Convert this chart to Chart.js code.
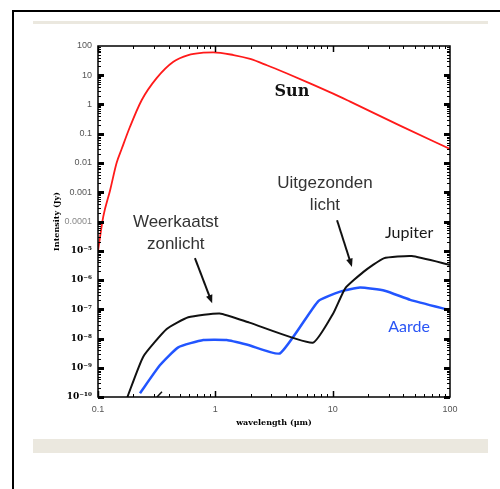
<!DOCTYPE html>
<html>
<head>
<meta charset="utf-8">
<title>Sun, Jupiter, Aarde</title>
<script src="https://cdn.jsdelivr.net/npm/chart.js@4/dist/chart.umd.min.js"></script>
<style>
  html, body { margin: 0; padding: 0; background: #fff; }
  #page { position: relative; width: 500px; height: 489px; overflow: hidden; }
  .rand { position: absolute; background: #000; }
  .balk { position: absolute; background: #ebe8df; }
  #wrap { position: absolute; left: 0; top: 0; width: 500px; height: 489px; }
</style>
</head>
<body>
<div id="page">
  <div class="rand" style="left:13px; top:10px; width:487px; height:2px;"></div>
  <div class="rand" style="left:12px; top:10px; width:2px; height:479px;"></div>
  <div class="balk" style="left:33px; top:21px; width:455px; height:3px;"></div>
  <div class="balk" style="left:33px; top:439px; width:455px; height:14px;"></div>
  <div id="wrap"><canvas id="grafiek" width="500" height="489"></canvas></div>
</div>
<script>
// ===== gegevens =====
const sunWavelength = [0.1, 0.111, 0.127, 0.144, 0.159, 0.187, 0.236, 0.316, 0.439, 0.588, 0.79, 0.96, 1.43, 1.98, 2.75, 4.04, 6.41, 10.1, 14.1, 37.5, 100];
const sunIntensity = [1e-5, 1.5e-4, 1.2e-3, 0.01, 0.03, 0.17, 1.43, 8, 29, 49, 59, 61, 49, 36, 22, 11.7, 5.3, 2.35, 1.25, 0.19, 0.03];

const jupiterWavelength = [0.178, 0.243, 0.385, 0.588, 1.09, 1.95, 6.77, 10.1, 12.8, 18.3, 27.2, 47.2, 100];
const jupiterIntensity = [1e-10, 2.4e-9, 2.1e-8, 5.3e-8, 7.2e-8, 3.5e-8, 7.2e-9, 7.2e-8, 5.2e-7, 1.9e-6, 5.5e-6, 6.6e-6, 3.3e-6];

const aardeWavelength = [0.228, 0.338, 0.483, 0.79, 1.25, 1.91, 3.56, 7.55, 11.6, 17.1, 27.8, 45.8, 100];
const aardeIntensity = [1.35e-10, 1.24e-9, 5e-9, 8.9e-9, 8.9e-9, 6e-9, 3.1e-9, 1.9e-7, 4e-7, 5.5e-7, 4.3e-7, 2.1e-7, 9.3e-8];

// klein los stukje onderaan
const restWavelength = [0.318, 0.351];
const restIntensity = [1e-10, 1.5e-10];

const xTicks = [0.1, 1, 10, 100];
const yTicks = [1e-10, 1e-9, 1e-8, 1e-7, 1e-6, 1e-5, 1e-4, 1e-3, 0.01, 0.1, 1, 10, 100];
const yTickLabels = ["10⁻¹⁰", "10⁻⁹", "10⁻⁸", "10⁻⁷", "10⁻⁶", "10⁻⁵", "0.0001", "0.001", "0.01", "0.1", "1", "10", "100"];

// tekstjes en pijlen, in data-coördinaten (golflengte, intensiteit)
const labels = [
  { text: "Sun", x: 4.5, y: 2.7, font: "bold 16px 'DejaVu Serif'", color: "#111" },
  { text: "Weerkaatst", x: 0.46, y: 9.6e-5, font: "17px 'Liberation Sans'", color: "#333" },
  { text: "zonlicht", x: 0.46, y: 1.6e-5, font: "17px 'Liberation Sans'", color: "#333" },
  { text: "Uitgezonden", x: 8.6, y: 2.1e-3, font: "17px 'Liberation Sans'", color: "#333" },
  { text: "licht", x: 8.6, y: 3.7e-4, font: "17px 'Liberation Sans'", color: "#333" },
  { text: "Jupiter", x: 44.8, y: 4e-5, font: "16px 'Lato'", color: "#1a1a1a" },
  { text: "Aarde", x: 44.8, y: 2.5e-8, font: "16px 'Lato'", color: "#2a55f5" },
];
const arrows = [
  { from: [0.67, 5.6e-6], to: [0.94, 1.6e-7] },
  { from: [10.9, 1.1e-4], to: [14.6, 2.8e-6] },
];

function punten(xs, ys) {
  return xs.map((x, i) => ({ x: x, y: ys[i] }));
}

// ===== kader + tickjes naar binnen =====
const kaderPlugin = {
  id: "kader",
  afterDatasetsDraw(chart) {
    const { ctx, chartArea: a, scales } = chart;
    ctx.save();
    ctx.strokeStyle = "#000";

    // x-tickjes boven en onder
    for (let d = 0; d < xTicks.length - 1; d++) {
      for (let k = 1; k <= 9; k++) {
        const px = Math.round(scales.x.getPixelForValue(xTicks[d] * k)) + 0.5;
        const len = k === 1 ? 6 : 3;
        ctx.lineWidth = k === 1 ? 1.5 : 1;
        ctx.beginPath();
        ctx.moveTo(px, a.bottom); ctx.lineTo(px, a.bottom - len);
        ctx.moveTo(px, a.top); ctx.lineTo(px, a.top + len);
        ctx.stroke();
      }
    }

    // y-tickjes links en rechts
    for (let d = 0; d < yTicks.length - 1; d++) {
      for (let k = 1; k <= 9; k++) {
        const py = Math.round(scales.y.getPixelForValue(yTicks[d] * k)) + 0.5;
        const len = k === 1 ? 6 : 3;
        ctx.lineWidth = k === 1 ? 3 : 1;
        ctx.beginPath();
        ctx.moveTo(a.left, py); ctx.lineTo(a.left + len, py);
        ctx.moveTo(a.right, py); ctx.lineTo(a.right - len, py);
        ctx.stroke();
      }
    }

    ctx.lineWidth = 1.5;
    ctx.strokeRect(a.left, a.top, a.right - a.left, a.bottom - a.top);
    ctx.restore();
  },
  afterDraw(chart) {
    const { ctx, scales } = chart;
    ctx.save();
    ctx.textAlign = "center";
    ctx.textBaseline = "middle";
    labels.forEach((l) => {
      ctx.font = l.font;
      ctx.fillStyle = l.color;
      ctx.fillText(l.text, scales.x.getPixelForValue(l.x), scales.y.getPixelForValue(l.y));
    });

    ctx.strokeStyle = "#111";
    ctx.fillStyle = "#111";
    ctx.lineWidth = 2;
    arrows.forEach((p) => {
      const x1 = scales.x.getPixelForValue(p.from[0]);
      const y1 = scales.y.getPixelForValue(p.from[1]);
      const x2 = scales.x.getPixelForValue(p.to[0]);
      const y2 = scales.y.getPixelForValue(p.to[1]);
      const hoek = Math.atan2(y2 - y1, x2 - x1);
      const kop = 9;
      ctx.beginPath();
      ctx.moveTo(x1, y1);
      ctx.lineTo(x2 - Math.cos(hoek) * kop * 0.8, y2 - Math.sin(hoek) * kop * 0.8);
      ctx.stroke();
      ctx.beginPath();
      ctx.moveTo(x2, y2);
      ctx.lineTo(x2 - kop * Math.cos(hoek - 0.38), y2 - kop * Math.sin(hoek - 0.38));
      ctx.lineTo(x2 - kop * Math.cos(hoek + 0.38), y2 - kop * Math.sin(hoek + 0.38));
      ctx.closePath();
      ctx.fill();
    });
    ctx.restore();
  },
};

const lijn = { showLine: true, pointRadius: 0, fill: false };

new Chart(document.getElementById("grafiek"), {
  type: "scatter",
  data: {
    datasets: [
      { ...lijn, label: "Sun", data: punten(sunWavelength, sunIntensity), borderColor: "#ff1a1a", borderWidth: 1.8, cubicInterpolationMode: "monotone" },
      { ...lijn, label: "Jupiter", data: punten(jupiterWavelength, jupiterIntensity), borderColor: "#111", borderWidth: 2, tension: 0.15 },
      { ...lijn, label: "Aarde", data: punten(aardeWavelength, aardeIntensity), borderColor: "#2255ff", borderWidth: 2.5, tension: 0.15 },
      { ...lijn, label: "rest", data: punten(restWavelength, restIntensity), borderColor: "#111", borderWidth: 1.5 },
    ],
  },
  options: {
    responsive: false,
    animation: false,
    layout: { padding: { left: 50, top: 46, right: 50, bottom: 59 } },
    plugins: { legend: { display: false }, tooltip: { enabled: false } },
    scales: {
      x: {
        type: "logarithmic",
        min: 0.1,
        max: 100,
        afterBuildTicks: (s) => { s.ticks = xTicks.map((v) => ({ value: v })); },
        afterFit: (s) => { s.height = 33; },
        grid: { display: false, drawTicks: false },
        border: { display: false },
        ticks: {
          padding: 7,
          maxRotation: 0,
          autoSkip: false,
          color: "#555",
          font: { family: "'Liberation Sans'", size: 9 },
          callback: (v) => String(v),
        },
        title: {
          display: true,
          text: "wavelength (μm)",
          color: "#000",
          padding: { top: 0, bottom: 2 },
          font: { family: "'DejaVu Serif'", size: 8, weight: "bold" },
        },
      },
      y: {
        type: "logarithmic",
        min: 1e-10,
        max: 100,
        afterBuildTicks: (s) => { s.ticks = yTicks.map((v) => ({ value: v })); },
        afterFit: (s) => { s.width = 48; },
        grid: { display: false, drawTicks: false },
        border: { display: false },
        ticks: {
          padding: 6,
          autoSkip: false,
          color: (c) => (c.tick && c.tick.value < 1e-4 ? "#000" : c.tick && c.tick.value === 1e-4 ? "#888" : "#555"),
          font: (c) => (c.tick && c.tick.value < 1e-4
            ? { family: "'DejaVu Serif'", size: 9, weight: "bold" }
            : { family: "'Liberation Sans'", size: 9 }),
          callback: (v) => yTickLabels[yTicks.indexOf(v)] ?? "",
        },
        title: {
          display: true,
          text: "Intensity (Jy)",
          color: "#000",
          padding: { top: 2, bottom: 0 },
          font: { family: "'DejaVu Serif'", size: 8, weight: "bold" },
        },
      },
    },
  },
  plugins: [kaderPlugin],
});
</script>
</body>
</html>
